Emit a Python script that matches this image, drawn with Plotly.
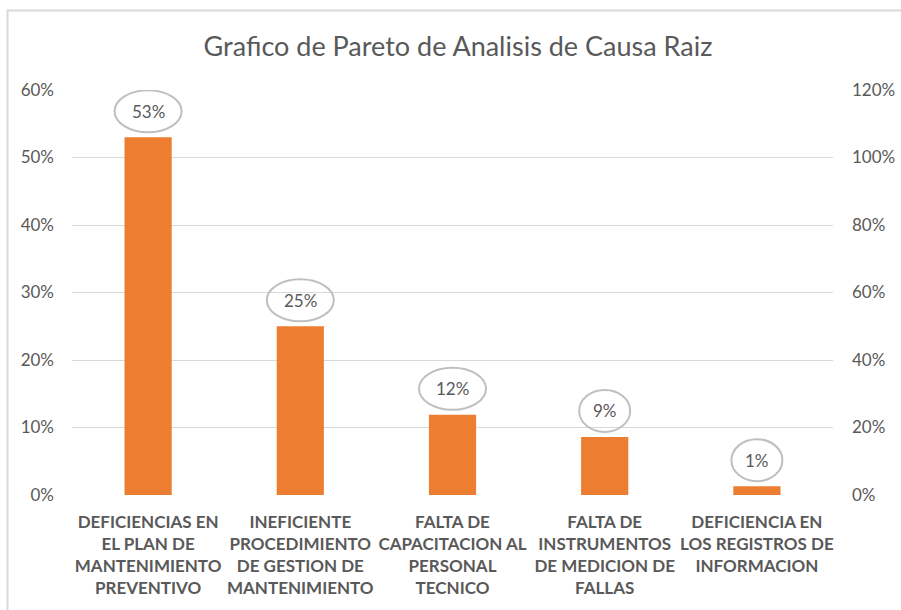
import plotly.graph_objects as go

categories = [
    "DEFICIENCIAS EN<br>EL PLAN DE<br>MANTENIMIENTO<br>PREVENTIVO",
    "INEFICIENTE<br>PROCEDIMIENTO<br>DE GESTION DE<br>MANTENIMIENTO",
    "FALTA DE<br>CAPACITACION AL<br>PERSONAL<br>TECNICO",
    "FALTA DE<br>INSTRUMENTOS<br>DE MEDICION DE<br>FALLAS",
    "DEFICIENCIA EN<br>LOS REGISTROS DE<br>INFORMACION",
]
values = [0.53, 0.25, 0.119, 0.086, 0.013]
labels = ["53%", "25%", "12%", "9%", "1%"]

left_ticks = [0, 0.1, 0.2, 0.3, 0.4, 0.5, 0.6]
right_ticks = [0, 0.2, 0.4, 0.6, 0.8, 1.0, 1.2]

W, H = 901, 610
ML, MR, MT, MB = 72, 68, 90, 115
pw, ph = W - ML - MR, H - MT - MB

GRAY = "#595959"
FONT = "Lato"

fig = go.Figure()
fig.add_trace(go.Bar(
    x=categories, y=values,
    marker=dict(color="#ED7D31", line=dict(width=0)),
    showlegend=False, hoverinfo="skip",
))
fig.add_trace(go.Scatter(
    x=categories, y=[None] * len(categories), yaxis="y2",
    mode="lines", showlegend=False, hoverinfo="skip",
))

shapes = []
annotations = []
for c, v, lab in zip(categories, values, labels):
    w = 67 if len(lab) >= 3 else 51
    shapes.append(dict(
        type="circle", xref="x", yref="y",
        xsizemode="pixel", ysizemode="pixel",
        xanchor=c, yanchor=v,
        x0=-w / 2, x1=w / 2, y0=26 - 21, y1=26 + 21,
        line=dict(color="#bfbfbf", width=2),
        fillcolor="rgba(0,0,0,0)",
    ))
    annotations.append(dict(
        x=c, y=v, xref="x", yref="y", text=lab, showarrow=False,
        yshift=26, font=dict(family=FONT, size=17, color=GRAY),
    ))

# outer chart border (top and left edges visible)
bx0 = (7.5 - ML) / pw
by1 = (H - MB - 10.5) / ph
bx1 = (W + 10 - ML) / pw
by0 = (H - MB - (H + 10)) / ph
shapes.append(dict(
    type="rect", xref="paper", yref="paper",
    x0=bx0, x1=bx1, y0=by0, y1=by1,
    line=dict(color="#d9d9d9", width=2), fillcolor="rgba(0,0,0,0)",
    layer="below",
))

fig.update_layout(
    width=W, height=H,
    margin=dict(l=ML, r=MR, t=MT, b=MB, autoexpand=False),
    paper_bgcolor="white", plot_bgcolor="white",
    title=dict(
        text="Grafico de Pareto de Analisis de Causa Raiz",
        x=458 / W, xref="container", xanchor="center",
        y=1 - 47 / H, yref="container", yanchor="middle",
        font=dict(family=FONT, size=27, color=GRAY),
    ),
    bargap=0.69,
    shapes=shapes,
    annotations=annotations,
    xaxis=dict(
        tickfont=dict(family=FONT, size=17, color=GRAY, weight="bold"),
        showgrid=False, zeroline=False, showline=False,
        ticks="", automargin=False, ticklabelstandoff=15,
    ),
    yaxis=dict(
        range=[0, 0.6], tickvals=left_ticks, tickformat=".0%",
        showgrid=True, gridcolor="#d9d9d9", gridwidth=1,
        zeroline=False, showline=False, ticks="", automargin=False,
        tickfont=dict(family=FONT, size=17, color=GRAY),
        ticklabelstandoff=17,
    ),
    yaxis2=dict(
        range=[0, 1.2], tickvals=right_ticks, tickformat=".0%",
        overlaying="y", side="right", automargin=False,
        showgrid=False, zeroline=False, showline=False, ticks="",
        tickfont=dict(family=FONT, size=17, color=GRAY),
        ticklabelstandoff=18,
    ),
)

fig.write_html(
    "out.html",
    config={"displayModeBar": False},
    post_script="document.body.style.margin='0';document.body.style.overflow='hidden';",
)
